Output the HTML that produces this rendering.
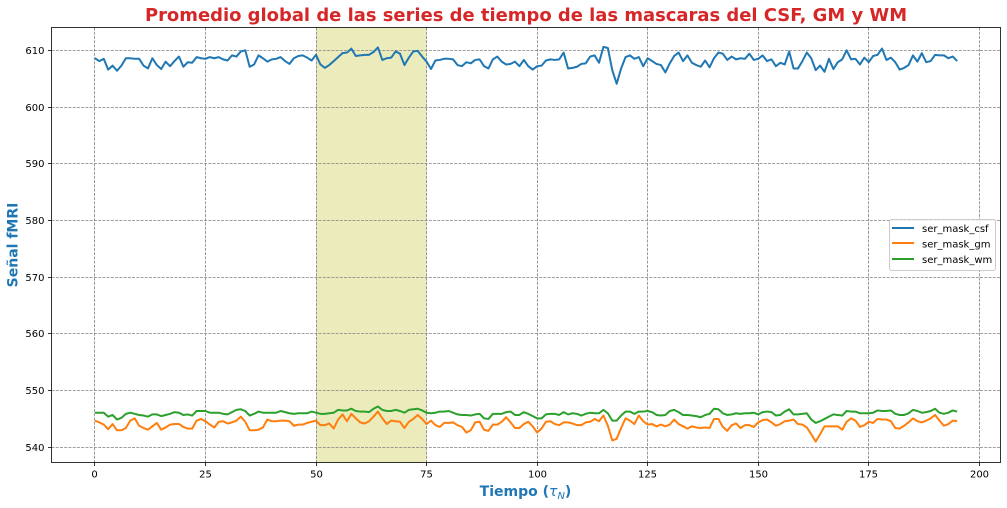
<!DOCTYPE html>
<html lang="es">
<head>
<meta charset="utf-8">
<title>Promedio global de las series de tiempo</title>
<style>
html,body{margin:0;padding:0;background:#fff;}
body{width:1007px;height:508px;overflow:hidden;}
svg{display:block;font-family:"DejaVu Sans","Liberation Sans",sans-serif;}
</style>
</head>
<body>
<svg id="chart" xmlns="http://www.w3.org/2000/svg" width="1007" height="508" viewBox="0 0 1007 508">
  <rect x="51.5" y="27.5" width="949" height="435" fill="#fff"/>
  <g id="span-layer"></g>
  <g id="grid-layer"></g>
  <g id="series-layer"></g>
  <g id="tick-layer"></g>
  <rect x="51.5" y="27.5" width="949" height="435" fill="none" stroke="#000" stroke-width="0.8"/>
  <text x="526" y="21" text-anchor="middle" font-size="17.95" font-weight="700" fill="#d62728">Promedio global de las series de tiempo de las mascaras del CSF, GM y WM</text>
  <text x="525.500" y="496" text-anchor="middle" font-size="14" font-weight="700" fill="#1f77b4">Tiempo (<tspan font-weight="400" font-style="italic">τ</tspan><tspan font-weight="400" font-style="italic" font-size="10" dy="3">N</tspan><tspan dy="-3">)</tspan></text>
  <text transform="translate(17.500 245) rotate(-90)" text-anchor="middle" font-size="14" font-weight="700" fill="#1f77b4">Señal fMRI</text>
  <g>
    <rect x="889.5" y="219.5" width="106" height="51" rx="2" fill="#fff" fill-opacity="0.8" stroke="#ccc" stroke-width="1"/>
    <line x1="892" x2="914" y1="228" y2="228" stroke="#1f77b4" stroke-width="2"/>
    <text x="922" y="232" font-size="10" fill="#000">ser_mask_csf</text>
    <line x1="892" x2="914" y1="243" y2="243" stroke="#ff7f0e" stroke-width="2"/>
    <text x="922" y="247.500" font-size="10" fill="#000">ser_mask_gm</text>
    <line x1="892" x2="914" y1="259" y2="259" stroke="#2ca02c" stroke-width="2"/>
    <text x="922" y="263" font-size="10" fill="#000">ser_mask_wm</text>
  </g>
</svg>
<script>
const serMaskCsf = [608.6,608.1,608.5,606.6,607.3,606.4,607.3,608.6,608.6,608.5,608.5,607.3,606.8,608.6,607.4,606.7,608,607.2,608.1,608.9,
607.1,607.9,607.8,608.8,608.6,608.5,608.8,608.6,608.8,608.4,608.2,609.1,608.9,609.8,610,607.1,607.5,609.1,608.6,608,
608.4,608.5,608.8,608.1,607.6,608.6,609,609.1,608.7,608.2,609.2,607.5,606.9,607.4,608.1,608.8,609.5,609.6,610.3,609,
609.1,609.2,609.2,609.7,610.5,608.3,608.6,608.7,609.8,609.4,607.4,608.7,609.8,609.9,608.9,608,606.7,608.2,608.3,608.5,
608.5,608.4,607.4,607.2,607.9,607.7,608.3,608.4,607.2,606.8,608.4,608.9,608,607.5,607.6,608,607.2,608.3,607.2,606.6,
607.2,607.3,608.2,608.4,608.3,608.4,609.6,606.8,606.9,607.1,607.6,607.7,608.9,609.1,607.8,610.6,610.4,606.5,604.1,606.8,
608.8,609.1,608.5,608.8,607.2,608.6,608.1,607.6,607.4,606.1,607.7,609,609.6,608.1,609.1,607.8,607.4,607.1,608.2,607,
608.6,609.6,609.4,608.3,608.9,608.4,608.6,608.5,609.4,608.3,608.5,609.1,608.1,608.4,607.2,607.8,607.5,609.8,606.8,606.8,
608.1,609.6,608.6,606.5,607.3,606.2,608.5,606.7,607.9,608.4,610,608.4,608.5,607.5,608.7,607.9,609,609.2,610.3,608.3,
608.7,607.9,606.6,606.9,607.4,609.1,608,609.5,607.9,608.1,609.2,609.1,609.1,608.6,608.9,608.1];
const serMaskGm = [544.7,544.4,544,543.2,544.1,543,543,543.4,544.7,545.1,543.8,543.4,543.1,543.7,544.3,543.1,543.5,544,544.1,544.1,
543.6,543.3,543.3,544.7,545,544.6,544,543.5,544.5,544.6,544.2,544.4,544.7,545.4,544.5,543,543,543.1,543.5,544.9,
544.6,544.6,544.7,544.7,544.6,543.8,544,544,544.3,544.5,544.7,543.9,543.9,544.2,543.3,544.9,545.8,544.6,545.9,545.1,
544.4,544.2,544.6,545.4,546.3,545.1,544.1,544.7,544.6,544.5,543.4,544.5,545,545.7,545,544.1,544.7,543.9,543.6,544.3,
544.3,544.4,543.9,543.6,542.6,543,544.4,544.5,543.1,542.9,544,544,544.5,545.3,544.4,543.4,543.4,544.1,544.5,543.7,
542.6,543.3,544.5,544.6,544.1,543.9,544.4,544.4,544.2,543.9,543.9,544.4,544.5,545,544.6,545.6,543.8,541.2,541.5,543.4,
545.1,544.7,544.1,545.6,544.6,544,544.1,543.7,544,543.7,544,544.9,544.1,543.7,543.3,543.7,543.5,543.4,543.5,543.4,
545,545,543.6,542.9,543.9,544.2,543.4,543.9,543.9,543.6,544.4,544.8,544.9,544.4,543.8,544.1,544.6,544.7,544.9,544.1,
544,543.5,542.3,541,542.3,543.7,543.7,543.7,543.7,543.1,544.5,545.1,544.7,543.6,543.9,544.5,544.3,545,544.9,544.9,
544.6,543.4,543.3,543.8,544.4,545.1,544.6,544.4,544.7,545.1,545.7,544.7,543.8,544.1,544.7,544.6];
const serMaskWm = [546.1,546.1,546.1,545.4,545.7,544.9,545.2,545.9,546.1,545.9,545.7,545.6,545.4,545.8,545.8,545.5,545.7,545.9,546.2,546.1,
545.7,545.8,545.6,546.4,546.4,546.4,546.1,546.1,546.1,545.9,545.8,546.2,546.6,546.7,546.4,545.6,545.9,546.3,546.1,546.1,
546.1,546.1,546.4,546.2,546,545.9,546,546,546,546.3,546.1,545.9,545.9,546,546.1,546.6,546.5,546.5,546.8,546.4,
546.3,546.3,546.2,546.8,547.2,546.6,546.4,546.4,546.6,546.4,546.1,546.6,546.7,546.8,546.5,546.1,546,546.1,546.3,546.3,
546.4,546.1,545.8,545.7,545.7,545.6,545.8,545.9,545.1,545,545.9,545.9,545.9,546.2,546.3,545.7,545.7,546.2,545.9,545.5,
545.1,545.1,545.8,545.9,545.9,545.7,546.2,545.8,546,545.9,545.6,545.9,546.1,546,546,546.6,546,544.7,544.7,545.6,
546.3,546.3,545.9,546.3,546.3,546.4,546.2,545.7,545.6,545.7,546.4,546.6,546.2,545.7,545.7,545.6,545.5,545.3,545.7,545.9,
546.8,546.7,546,545.7,545.8,546,545.9,546,546,546.1,545.8,546.2,546.3,546.2,545.6,545.7,546.3,546.7,545.8,545.8,
545.9,546,544.9,544.3,544.6,545,545.4,545.8,545.7,545.6,546.4,546.3,546.3,546,546,546,546.1,546.5,546.4,546.4,
546.5,545.9,545.7,545.7,546,546.6,546.4,546.1,546.2,546.4,546.8,546.1,545.9,546.1,546.5,546.3];
const seriesNames = ['csf','gm','wm'];
const xTickValues = [0,25,50,75,100,125,150,175,200];
const yTickValues = [540,550,560,570,580,590,600,610];
const highlightRange = [50,75];

const SVG_NS = 'http://www.w3.org/2000/svg';
const seriesColors = ['#1f77b4','#ff7f0e','#2ca02c'];
const plot = {left:51.5, right:1000.5, top:27.5, bottom:462.5};
function xScale(v){ return 94.9 + v * 4.422; }
function yScale(v){ return 447.3 - (v - 540) * (397 / 70); }
function snap(p){ return Math.floor(p) + 0.5; }
function make(tag, attrs, parent){
  const el = document.createElementNS(SVG_NS, tag);
  for (const k in attrs) el.setAttribute(k, attrs[k]);
  parent.appendChild(el);
  return el;
}
const spanLayer = document.getElementById('span-layer');
const gridLayer = document.getElementById('grid-layer');
const tickLayer = document.getElementById('tick-layer');
const seriesLayer = document.getElementById('series-layer');

const spanRect = make('rect', {x:xScale(highlightRange[0]), y:plot.top, width:xScale(highlightRange[1])-xScale(highlightRange[0]), height:plot.bottom-plot.top, fill:'#bcbd22', 'fill-opacity':0.3}, spanLayer);



xTickValues.forEach(function(t){
  const x = snap(xScale(t));
  const g = make('line', {x1:x, x2:x, y1:plot.top, y2:plot.bottom, stroke:'#808080', 'stroke-width':0.8, 'stroke-dasharray':'2.96 1.28'}, gridLayer);
  
  
  const m = make('line', {x1:x, x2:x, y1:plot.bottom, y2:plot.bottom+3.5, stroke:'#000', 'stroke-width':0.8}, tickLayer);
  
  
  const l = make('text', {x:x, y:plot.bottom+15, 'text-anchor':'middle', 'font-size':10, fill:'#000'}, tickLayer);
  l.textContent = String(t);
  
  
});
yTickValues.forEach(function(t){
  const y = snap(yScale(t));
  const g = make('line', {x1:plot.left, x2:plot.right, y1:y, y2:y, stroke:'#808080', 'stroke-width':0.8, 'stroke-dasharray':'2.96 1.28'}, gridLayer);
  
  
  const m = make('line', {x1:plot.left-3.5, x2:plot.left, y1:y, y2:y, stroke:'#000', 'stroke-width':0.8}, tickLayer);
  
  
  const l = make('text', {x:plot.left-7, y:y+3.5, 'text-anchor':'end', 'font-size':10, fill:'#000'}, tickLayer);
  l.textContent = String(t);
  
  
});
[serMaskCsf, serMaskGm, serMaskWm].forEach(function(values, i){
  const pts = values.map(function(v, idx){ return xScale(idx).toFixed(2) + ',' + yScale(v).toFixed(2); }).join(' ');
  const line = make('polyline', {points:pts, fill:'none', stroke:seriesColors[i], 'stroke-width':2, 'stroke-linejoin':'round'}, seriesLayer);
  
  
});
</script>
</body>
</html>
